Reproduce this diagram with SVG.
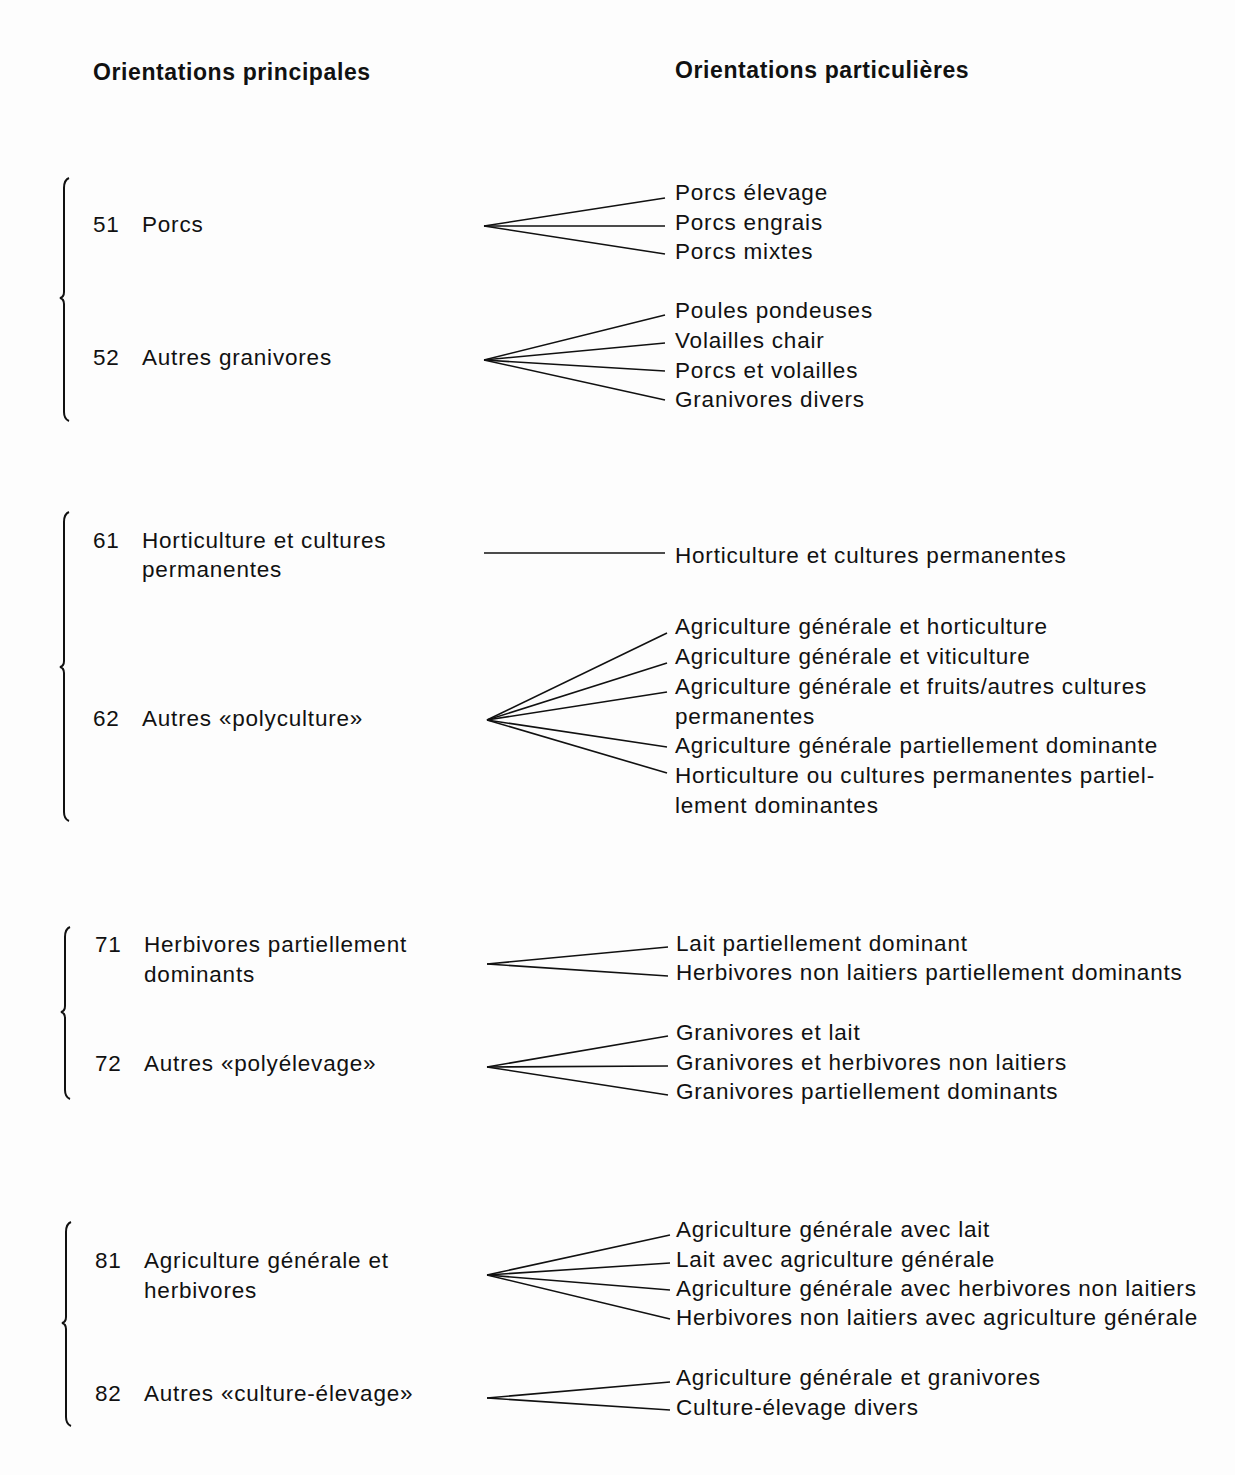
<svg xmlns="http://www.w3.org/2000/svg" width="1235" height="1475" viewBox="0 0 1235 1475">
<style>
text{font-family:"Liberation Sans",Arial,Helvetica,sans-serif;font-size:22.5px;letter-spacing:0.8px;fill:#111}
.h{font-weight:bold;font-size:23px;letter-spacing:0.6px}
.c line{stroke:#111;stroke-width:1.6}
.b{fill:none;stroke:#111;stroke-width:2}
</style>
<rect width="1235" height="1475" fill="#fdfdfd"/>
<g id="headers">
<text class="h" x="93" y="80">Orientations principales</text>
<text class="h" x="675" y="78">Orientations particulières</text>
</g>
<g id="braces">
<path class="b" d="M69,178 Q64,180 64,188 L64,292 Q64,297 60,298 Q64,299 64,304 L64,412 Q64,419 69,421"/>
<path class="b" d="M69,512 Q64,514 64,522 L64,661 Q64,666 60,667 Q64,668 64,673 L64,812 Q64,819 69,821"/>
<path class="b" d="M70,927 Q65,929 65,937 L65,1006 Q65,1011 61,1012 Q65,1013 65,1018 L65,1090 Q65,1097 70,1099"/>
<path class="b" d="M71,1222 Q66,1224 66,1232 L66,1317 Q66,1322 62,1323 Q66,1324 66,1329 L66,1417 Q66,1424 71,1426"/>
</g>
<g id="n51"><text x="93" y="232">51</text><text x="142" y="232">Porcs</text></g>
<g id="n52"><text x="93" y="365">52</text><text x="142" y="365">Autres granivores</text></g>
<g id="n61"><text x="93" y="548">61</text><text x="142" y="548">Horticulture et cultures</text><text x="142" y="577">permanentes</text></g>
<g id="n62"><text x="93" y="726">62</text><text x="142" y="726">Autres «polyculture»</text></g>
<g id="n71"><text x="95" y="952">71</text><text x="144" y="952">Herbivores partiellement</text><text x="144" y="982">dominants</text></g>
<g id="n72"><text x="95" y="1071">72</text><text x="144" y="1071">Autres «polyélevage»</text></g>
<g id="n81"><text x="95" y="1268">81</text><text x="144" y="1268">Agriculture générale et</text><text x="144" y="1298">herbivores</text></g>
<g id="n82"><text x="95" y="1401">82</text><text x="144" y="1401">Autres «culture-élevage»</text></g>
<g id="r51">
<text x="675" y="200">Porcs élevage</text>
<text x="675" y="230">Porcs engrais</text>
<text x="675" y="259">Porcs mixtes</text>
</g>
<g id="r52">
<text x="675" y="318">Poules pondeuses</text>
<text x="675" y="348">Volailles chair</text>
<text x="675" y="378">Porcs et volailles</text>
<text x="675" y="407">Granivores divers</text>
</g>
<g id="r61"><text x="675" y="563">Horticulture et cultures permanentes</text></g>
<g id="r62">
<text x="675" y="634">Agriculture générale et horticulture</text>
<text x="675" y="664">Agriculture générale et viticulture</text>
<text x="675" y="694">Agriculture générale et fruits/autres cultures</text>
<text x="675" y="724">permanentes</text>
<text x="675" y="753">Agriculture générale partiellement dominante</text>
<text x="675" y="783">Horticulture ou cultures permanentes partiel-</text>
<text x="675" y="813">lement dominantes</text>
</g>
<g id="r71">
<text x="676" y="951">Lait partiellement dominant</text>
<text x="676" y="980">Herbivores non laitiers partiellement dominants</text>
</g>
<g id="r72">
<text x="676" y="1040">Granivores et lait</text>
<text x="676" y="1070">Granivores et herbivores non laitiers</text>
<text x="676" y="1099">Granivores partiellement dominants</text>
</g>
<g id="r81">
<text x="676" y="1237">Agriculture générale avec lait</text>
<text x="676" y="1267">Lait avec agriculture générale</text>
<text x="676" y="1296">Agriculture générale avec herbivores non laitiers</text>
<text x="676" y="1325">Herbivores non laitiers avec agriculture générale</text>
</g>
<g id="r82">
<text x="676" y="1385">Agriculture générale et granivores</text>
<text x="676" y="1415">Culture-élevage divers</text>
</g>
<g id="connectors" class="c">
<line x1="484" y1="226" x2="665" y2="198"/>
<line x1="484" y1="226" x2="665" y2="226"/>
<line x1="484" y1="226" x2="665" y2="254"/>
<line x1="484" y1="360" x2="665" y2="315"/>
<line x1="484" y1="360" x2="665" y2="343"/>
<line x1="484" y1="360" x2="665" y2="371"/>
<line x1="484" y1="360" x2="665" y2="400"/>
<line x1="484" y1="553" x2="665" y2="553"/>
<line x1="487" y1="720" x2="667" y2="633"/>
<line x1="487" y1="720" x2="667" y2="663"/>
<line x1="487" y1="720" x2="667" y2="692"/>
<line x1="487" y1="720" x2="667" y2="747"/>
<line x1="487" y1="720" x2="667" y2="773"/>
<line x1="487" y1="964" x2="668" y2="947"/>
<line x1="487" y1="964" x2="668" y2="976"/>
<line x1="487" y1="1067" x2="668" y2="1036"/>
<line x1="487" y1="1067" x2="668" y2="1066"/>
<line x1="487" y1="1067" x2="668" y2="1095"/>
<line x1="487" y1="1275" x2="670" y2="1235"/>
<line x1="487" y1="1275" x2="670" y2="1263"/>
<line x1="487" y1="1275" x2="670" y2="1290"/>
<line x1="487" y1="1275" x2="670" y2="1319"/>
<line x1="487" y1="1398" x2="670" y2="1382"/>
<line x1="487" y1="1398" x2="670" y2="1410"/>
</g>
</svg>
